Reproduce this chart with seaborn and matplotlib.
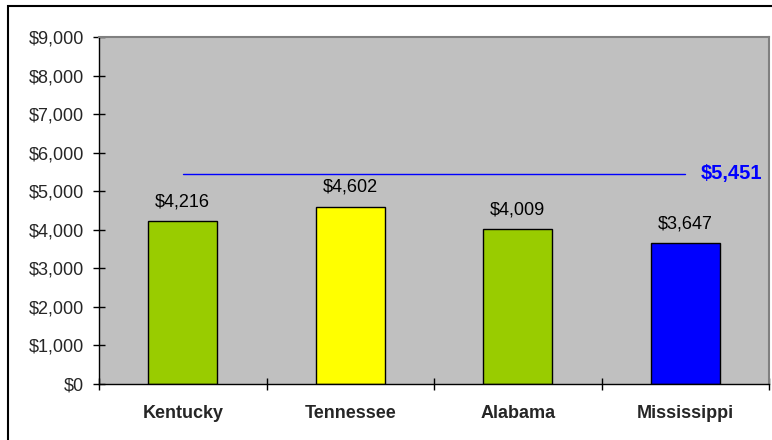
import matplotlib
matplotlib.use("Agg")
import matplotlib.pyplot as plt
import seaborn as sns
import pandas as pd
from matplotlib.ticker import FuncFormatter, FixedLocator, MultipleLocator

states = ["Kentucky", "Tennessee", "Alabama", "Mississippi"]
spending = [4216, 4602, 4009, 3647]
bar_colors = ["#99CC00", "#FFFF00", "#99CC00", "#0000FF"]
benchmark = 5451

sns.set_theme(style="white")
plt.rcParams["font.family"] = ["Liberation Sans", "DejaVu Sans"]

W, H = 772, 440
fig = plt.figure(figsize=(W / 100, H / 100), dpi=100)
ax = fig.add_axes([99 / W, 1 - 384 / H, (769 - 99) / W, (384 - 37) / H])

df = pd.DataFrame({"state": states, "value": spending})
sns.barplot(data=df, x="state", y="value", hue="state", palette=bar_colors,
            width=0.41, edgecolor="black", linewidth=1.0, legend=False,
            saturation=1, ax=ax)

ax.set_facecolor("#C0C0C0")
ax.set_ylim(0, 9000)
ax.set_xlim(-0.5, 3.5)
ax.set_xlabel("")
ax.set_ylabel("")

ax.yaxis.set_major_locator(MultipleLocator(1000))
ax.yaxis.set_major_formatter(FuncFormatter(lambda v, p: f"${v:,.0f}"))
ax.tick_params(axis="y", direction="inout", length=8, width=1, color="black",
               labelsize=13, pad=7, left=True)

# category boundary ticks, with names centred under each bar
ax.xaxis.set_major_locator(FixedLocator([-0.5, 0.5, 1.5, 2.5, 3.5]))
ax.xaxis.set_minor_locator(FixedLocator(range(len(states))))
ax.set_xticklabels([""] * 5)
ax.set_xticklabels(states, minor=True, fontweight="bold", fontsize=13)
ax.tick_params(axis="x", which="major", direction="inout", length=9, width=1,
               color="black", bottom=True)
ax.tick_params(axis="x", which="minor", length=0, pad=15)

for side in ("left", "bottom"):
    ax.spines[side].set_color("black")
    ax.spines[side].set_linewidth(1)
for side in ("top", "right"):
    ax.spines[side].set_color("#808080")
    ax.spines[side].set_linewidth(1.5)

for i, v in enumerate(spending):
    ax.annotate(f"${v:,}", (i, v), xytext=(0, 8), textcoords="offset points",
                ha="center", va="bottom", fontsize=13, color="black")

ax.plot([0, len(states) - 1], [benchmark, benchmark], color="#0000FF", lw=1)
ax.annotate(f"${benchmark:,}", (len(states) - 1, benchmark), xytext=(11, 0),
            textcoords="offset points", ha="left", va="center",
            fontsize=14.5, fontweight="bold", color="#0000FF")

# outer frame
fig.add_artist(plt.Rectangle((8 / W, -0.1), 1.5, 1 - 6 / H + 0.1, fill=False,
                             edgecolor="black", lw=1.5,
                             transform=fig.transFigure, clip_on=False))

fig.savefig("out.png", dpi=100, facecolor="white")
